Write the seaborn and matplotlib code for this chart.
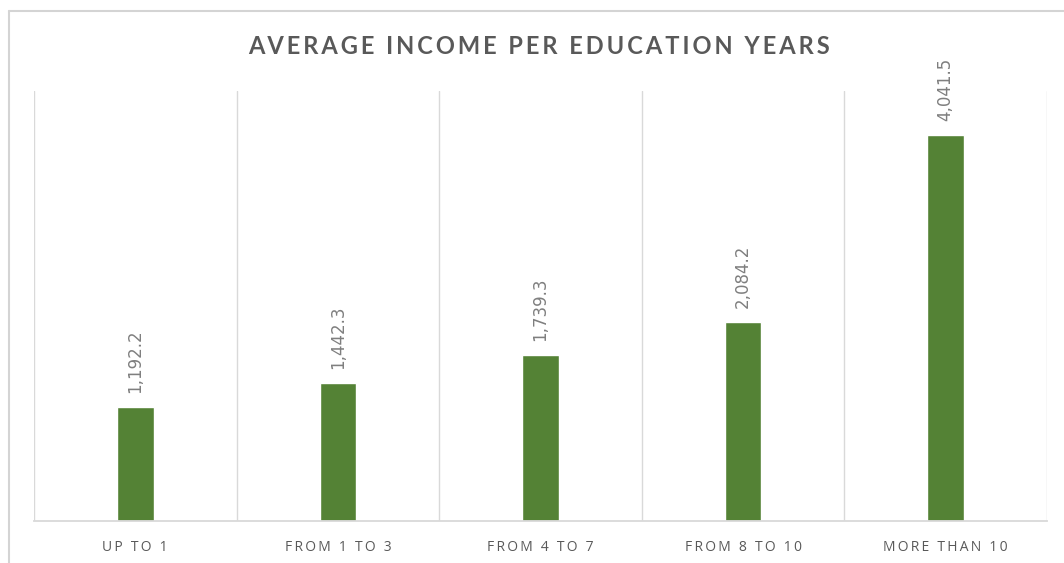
import matplotlib
matplotlib.use("Agg")
import matplotlib.pyplot as plt
from matplotlib.lines import Line2D
import seaborn as sns
import pandas as pd

categories = ["UP TO 1", "FROM 1 TO 3", "FROM 4 TO 7", "FROM 8 TO 10", "MORE THAN 10"]
income = [1192.2, 1442.3, 1739.3, 2084.2, 4041.5]
title_text = "AVERAGE INCOME PER EDUCATION YEARS"

sns.set_theme(style="white")
plt.rcParams["font.family"] = ["Open Sans", "DejaVu Sans"]

BAR = "#548235"
TEXT = "#595959"
GRID = "#d9d9d9"


def spaced(s, sep="\u200a"):
    return sep.join(s)


df = pd.DataFrame({"cat": categories, "income": income})

fig = plt.figure(figsize=(10.64, 5.63), dpi=100)
fig.patch.set_facecolor("white")

ax = fig.add_axes([34 / 1064, 42 / 563, (1047 - 34) / 1064, (521 - 91) / 563])
sns.barplot(data=df, x="cat", y="income", color=BAR, width=0.18,
            saturation=1, ax=ax)

# outer chart border: left and top edges
bx, by = 8.5 / 1064, 1 - 10.5 / 563
fig.lines.append(Line2D([bx, bx], [0, by], transform=fig.transFigure,
                        color="#d4d4d4", linewidth=1.5, zorder=10))
fig.lines.append(Line2D([bx, 1], [by, by], transform=fig.transFigure,
                        color="#d4d4d4", linewidth=1.5, zorder=10))

ax.set_ylim(0, 4500)
ax.set_xlim(-0.5, len(categories) - 0.5)
ax.set_yticks([])
ax.set_xlabel("")
ax.set_ylabel("")

# vertical separators between categories
ax.set_xticks([i - 0.5 for i in range(len(categories) + 1)], minor=True)
ax.grid(True, which="minor", axis="x", color=GRID, linewidth=1.0)
ax.tick_params(axis="x", which="both", length=0, pad=14)
ax.set_xticks(range(len(categories)))
ax.set_xticklabels([spaced(c, "\u2009") for c in categories],
                   color=TEXT, fontsize=10)

for side in ("left", "right", "top"):
    ax.spines[side].set_visible(False)
ax.spines["bottom"].set_color(GRID)
ax.spines["bottom"].set_linewidth(1.3)

for i, v in enumerate(income):
    ax.annotate(f"{v:,.1f}", (i, v), xytext=(0, 10), textcoords="offset points",
                rotation=90, ha="center", va="bottom", color="#7f7f7f",
                fontsize=12, family=["Liberation Sans Narrow", "DejaVu Sans"])

fig.text(539 / 1064, 1 - 47 / 563, spaced(title_text, "\u2009"),
         ha="center", va="center", fontsize=17, fontweight="bold", color=TEXT,
         family=["Lato", "DejaVu Sans"])

fig.savefig("out.png", dpi=100, facecolor="white")
